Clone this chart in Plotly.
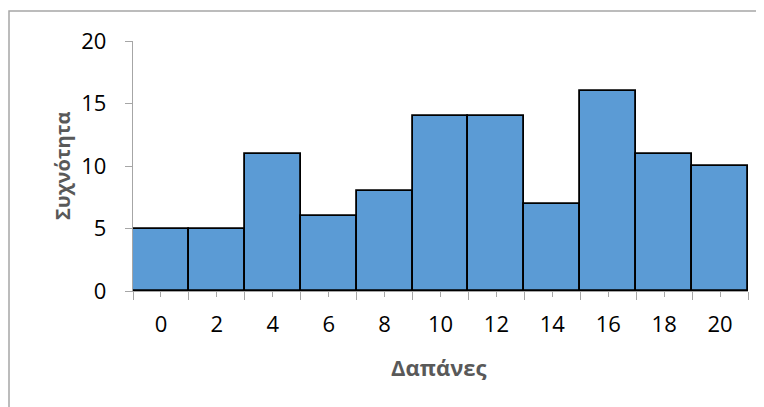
import plotly.graph_objects as go

categories = [0, 2, 4, 6, 8, 10, 12, 14, 16, 18, 20]
frequencies = [5, 5, 11, 6, 8, 14, 14, 7, 16, 11, 10]
y_ticks = [0, 5, 10, 15, 20]
x_title = "Δαπάνες"
y_title = "Συχνότητα"

FONT = "Open Sans"
bin_w = categories[1] - categories[0]
boundaries = [c - bin_w / 2 for c in categories] + [categories[-1] + bin_w / 2]

fig = go.Figure(go.Bar(
    x=categories, y=frequencies, width=bin_w,
    marker=dict(color="#5B9BD5", line=dict(color="#000000", width=1.8)),
))

W, H = 756, 399
L, T, PW, PH = 125, 33, 615, 250
fig.update_layout(
    width=W, height=H,
    margin=dict(l=L, r=W - L - PW, t=T, b=H - T - PH),
    paper_bgcolor="white", plot_bgcolor="white",
    showlegend=False,
    font=dict(family=FONT, size=22, color="#000000"),
    bargap=0,
)
fig.update_xaxes(
    range=[boundaries[0], boundaries[-1]],
    tickvals=categories, ticktext=[str(c) for c in categories],
    ticks="outside", ticklen=5, tickcolor="#A6A6A6", tickwidth=1,
    showline=True, linecolor="#A6A6A6", linewidth=1.3,
    showgrid=False, zeroline=False,
    ticklabelstandoff=8,
    minor=dict(tickvals=boundaries, ticks="outside", ticklen=8, tickcolor="#A6A6A6", tickwidth=1, showgrid=False),
)
fig.update_yaxes(
    range=[0, 20], tickvals=y_ticks,
    ticks="outside", ticklen=7, tickcolor="#A6A6A6", tickwidth=1,
    showline=True, linecolor="#A6A6A6", linewidth=1.3,
    showgrid=False, zeroline=False,
    ticklabelstandoff=14,
)
fig.add_annotation(text="<b>" + x_title + "</b>", xref="paper", yref="paper",
                   x=0.498, y=-0.304, yanchor="middle", xanchor="center", showarrow=False,
                   font=dict(family=FONT, size=22, color="#595959"))
fig.add_annotation(text="<b>" + y_title + "</b>", xref="paper", yref="paper",
                   x=-0.1154, y=0.5, textangle=-90, xanchor="center", yanchor="middle", showarrow=False,
                   font=dict(family=FONT, size=20, color="#595959"))
fig.add_shape(type="rect", xref="paper", yref="paper",
              x0=(1 - L) / PW, y0=-0.6, x1=1.2, y1=1 + (T - 3) / PH,
              line=dict(color="#A6A6A6", width=1.5), fillcolor="rgba(0,0,0,0)")

fig.write_html("out.html")
